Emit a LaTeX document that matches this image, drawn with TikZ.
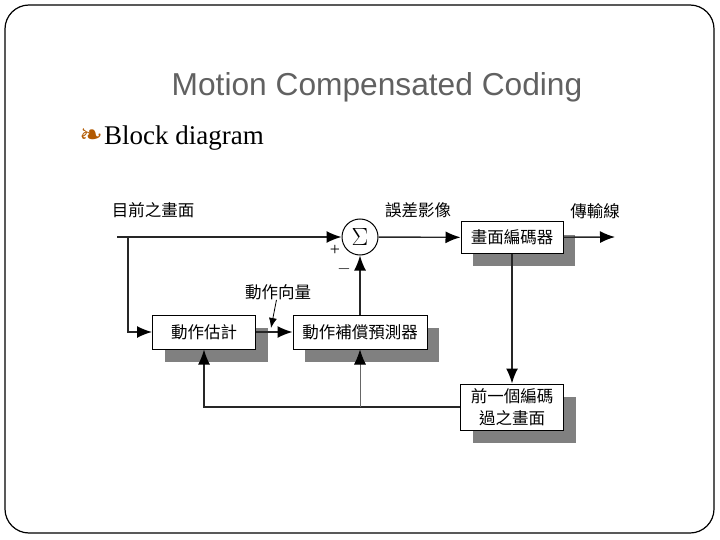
\documentclass[tikz,border=0pt]{standalone}
\usepackage{fontspec}
\setmainfont{Liberation Serif}
\newfontfamily\cjk{Noto Sans CJK TC}
\newfontfamily\ttlfont{Liberation Sans}
\newfontfamily\dingfont{DejaVu Sans}
\usetikzlibrary{arrows.meta,shadows}

\begin{document}
\begin{tikzpicture}[x=1pt,y=-1pt,
        blk/.style={draw,line width=1pt,fill=white,inner sep=0pt,align=center,
            font=\cjk\fontsize{16.5}{22}\selectfont,
            drop shadow={shadow xshift=12pt,shadow yshift=-13pt,fill=black!50,opacity=1}},
        lbl/.style={font=\cjk\fontsize{16.5}{19}\selectfont,inner sep=0pt},
        ln/.style={line width=1.4pt,draw=black!85},
        arr/.style={ln,-{Latex[length=15pt,width=12pt,black]}}]
        \useasboundingbox (0,0) rectangle (720,540);
        \draw[line width=1.2pt,rounded corners=24pt] (5,5) rectangle (714,533);
        \node[font=\ttlfont\fontsize{31.7}{38}\selectfont,text=black!62] (ttl) at (377,87) {Motion Compensated Coding};
        \node[anchor=base west,font=\fontsize{27}{32}\selectfont,inner sep=0pt] (sub) at (104,145) {Block diagram};
        \node[anchor=base east,font=\dingfont\fontsize{28}{30}\selectfont,text=orange!70!black,inner sep=1pt] (bul) at (sub.base west) {❧};
        \node[blk,minimum width=103pt,minimum height=34pt] (est) at (204,332) {動作估計};
        \node[blk,minimum width=134pt,minimum height=34pt] (mcp) at (360,332) {動作補償預測器};
        \node[blk,minimum width=102pt,minimum height=31pt] (enc) at (512,237.5) {畫面編碼器};
        \node[blk,minimum width=103pt,minimum height=46pt] (prev) at (512,407) {前一個編碼\\過之畫面};
        \node[draw,circle,line width=1pt,minimum size=36pt,inner sep=0pt,font=\fontsize{26}{28}\selectfont] (sum) at (360,237) {$\Sigma$};
        \node[lbl] (cur) at (153,210) {目前之畫面};
        \node[lbl] (err) at (418,210) {誤差影像};
        \node[lbl] (tx) at (595,211) {傳輸線};
        \node[lbl] (mv) at (278,292) {動作向量};
        \node[font=\fontsize{18}{20}\selectfont,inner sep=0pt] (pl) at (335,250) {+};
        \node[font=\fontsize{18}{20}\selectfont,inner sep=0pt] (mi) at (344,269) {$-$};
        \coordinate (in) at (117,237);
        \coordinate (br) at (128,237);
        \coordinate (out) at (615,237);
        \coordinate (fb) at (360,407);
        \coordinate (mvpt) at (271,328);
        \draw[arr] (in) -- (sum);
        \draw[arr] (br) |- (est);
        \draw[arr] (sum) -- (enc);
        \draw[arr] (enc) -- (out);
        \draw[arr] (enc) -- (prev);
        \draw[arr] (est) -- (mcp);
        \draw[arr] (mcp) -- (sum);
        \draw[arr] (prev) -| (est);
        \draw[arr,line width=0.8pt,draw=black!60] (fb) -- (mcp);
        \draw[line width=0.8pt,-{Latex[length=10pt,width=8pt]}] (mv) -- (mvpt);
    \end{tikzpicture}
\end{document}
